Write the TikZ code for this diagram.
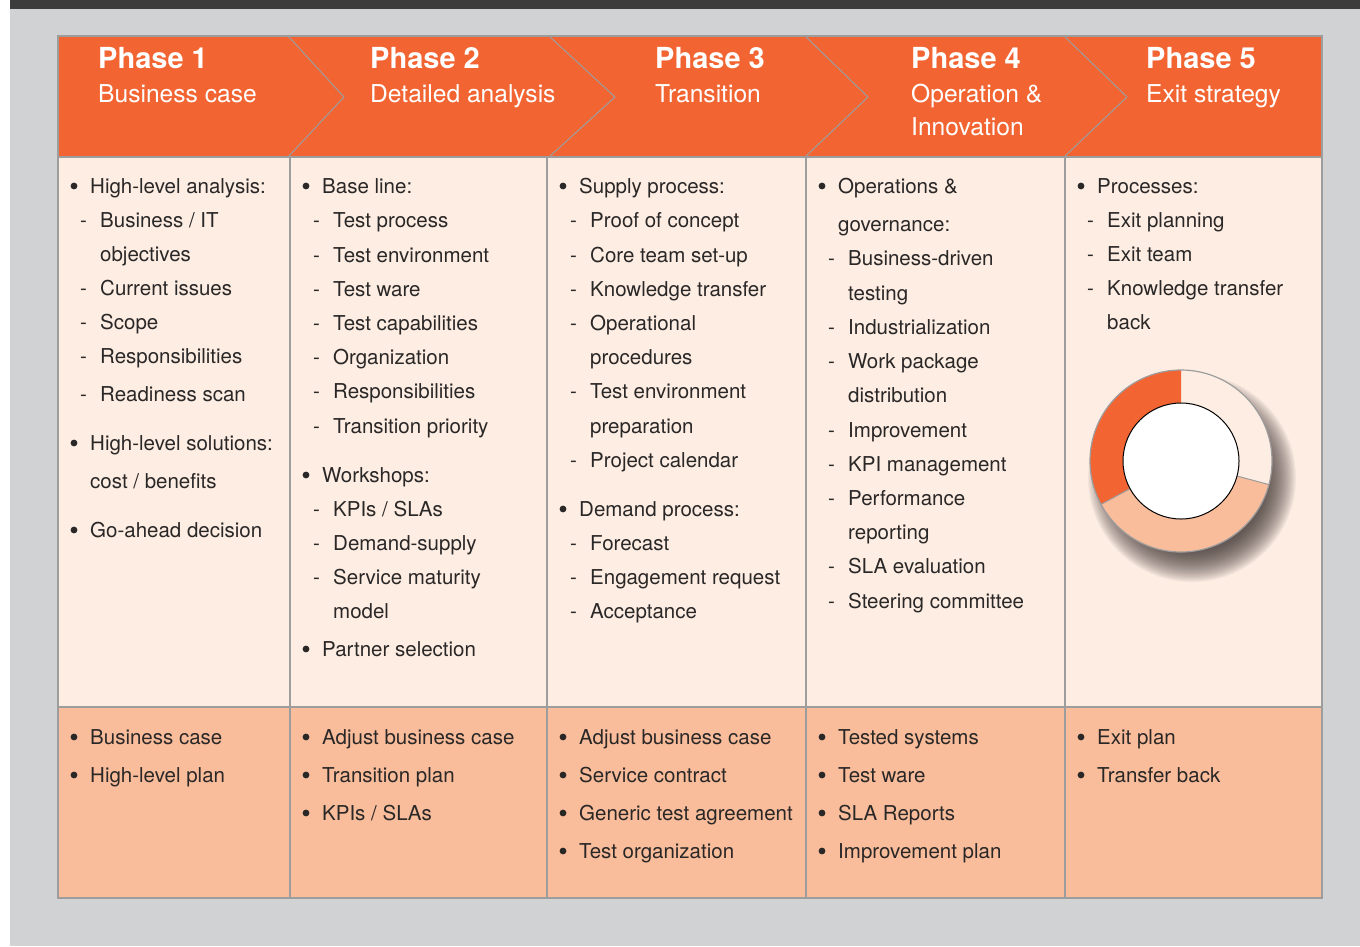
\documentclass[tikz,border=0pt]{standalone}
\usepackage{fontspec}
\setmainfont{TeX Gyre Heros}
\definecolor{orangeC}{HTML}{F26532}
\definecolor{bodyC}{HTML}{FDEDE3}
\definecolor{peachC}{HTML}{F9BD9B}
\definecolor{bgC}{HTML}{D1D2D4}
\definecolor{darkC}{HTML}{3C3C3C}
\definecolor{gridC}{HTML}{9D9D9D}
\definecolor{txtC}{HTML}{2A2727}
\definecolor{shadowC}{HTML}{3A302E}
\tikzset{
  txt/.style={anchor=base west, inner sep=0pt, text=txtC, font=\fontsize{20.5}{24}\selectfont},
  ph/.style={anchor=base west, inner sep=0pt, text=white, font=\fontsize{29}{32}\selectfont\bfseries},
  phs/.style={anchor=base west, inner sep=0pt, text=white, font=\fontsize{24.6}{30}\selectfont},
  gridline/.style={draw=gridC, line width=1.2pt},
  chevline/.style={draw=gridC, line width=1pt},
}
% bullet item: name, bullet x, center y, text
\newcommand\bul[4]{\fill[txtC] (#2,#3) circle (3.4);
  \node[txt] (#1) at (#2+16,#3+7) {#4};}
% dash item: name, dash x, center y, text
\newcommand\dsh[4]{\node[txt] (#1d) at (#2,#3+7) {-};
  \node[txt] (#1) at (#2+20,#3+7) {#4};}
% continuation: name, x, center y, text
\newcommand\cnt[4]{\node[txt] (#1) at (#2,#3+7) {#4};}
\begin{document}
\begin{tikzpicture}[x=1pt,y=-1pt]
\useasboundingbox (0,0) rectangle (1360,946);
\fill[white] (0,0) rectangle (1360,946);
\fill[bgC] (10,9) rectangle (1360,946);
\fill[darkC] (10,0) rectangle (1360,9);
% table fills
\fill[orangeC] (58,36) rectangle (1322,157);
\fill[bodyC] (58,157) rectangle (1322,707);
\fill[peachC] (58,707) rectangle (1322,898);
% chevrons
\draw[chevline] (288,36) -- (344,97) -- (288,157);
\draw[chevline] (549,36) -- (615,97) -- (549,157);
\draw[chevline] (805,36) -- (868,97) -- (805,157);
\draw[chevline] (1064,36) -- (1127,97) -- (1064,157);
% grid
\draw[gridline] (58,36) rectangle (1322,898);
\draw[gridline] (58,157) -- (1322,157);
\draw[gridline] (58,707) -- (1322,707);
\foreach \xx in {290,547,806,1065} \draw[gridline] (\xx,157) -- (\xx,898);
% headers
\node[ph] (h1) at (98,68) {Phase 1};
\node[phs] (h1s) at (98,102) {Business case};
\node[ph] (h2) at (370,68) {Phase 2};
\node[phs] (h2s) at (370,102) {Detailed analysis};
\node[ph] (h3) at (655,68) {Phase 3};
\node[phs] (h3s) at (655,102) {Transition};
\node[ph] (h4) at (911,68) {Phase 4};
\node[phs] (h4s) at (911,102) {Operation \&};
\node[phs] (h4t) at (911,135) {Innovation};
\node[ph] (h5) at (1146,68) {Phase 5};
\node[phs] (h5s) at (1146,102) {Exit strategy};
% column 1
\bul{a1}{74}{186}{High-level analysis:}
\dsh{a2}{80}{220}{Business / IT}
\cnt{a3}{100}{254}{objectives}
\dsh{a4}{80}{288}{Current issues}
\dsh{a5}{80}{322}{Scope}
\dsh{a6}{80}{356}{Responsibilities}
\dsh{a7}{80}{394}{Readiness scan}
\bul{a8}{74}{443}{High-level solutions:}
\cnt{a9}{90}{481}{cost / benefits}
\bul{a10}{74}{530}{Go-ahead decision}
% column 2
\bul{b1}{306}{186}{Base line:}
\dsh{b2}{313}{220}{Test process}
\dsh{b3}{313}{255}{Test environment}
\dsh{b4}{313}{289}{Test ware}
\dsh{b5}{313}{323}{Test capabilities}
\dsh{b6}{313}{357}{Organization}
\dsh{b7}{313}{391}{Responsibilities}
\dsh{b8}{313}{426}{Transition priority}
\bul{b9}{306}{475}{Workshops:}
\dsh{b10}{313}{509}{KPIs / SLAs}
\dsh{b11}{313}{543}{Demand-supply}
\dsh{b12}{313}{577}{Service maturity}
\cnt{b13}{333}{611}{model}
\bul{b14}{306}{649}{Partner selection}
% column 3
\bul{c1}{563}{186}{Supply process:}
\dsh{c2}{570}{220}{Proof of concept}
\dsh{c3}{570}{255}{Core team set-up}
\dsh{c4}{570}{289}{Knowledge transfer}
\dsh{c5}{570}{323}{Operational}
\cnt{c6}{590}{357}{procedures}
\dsh{c7}{570}{391}{Test environment}
\cnt{c8}{590}{426}{preparation}
\dsh{c9}{570}{460}{Project calendar}
\bul{c10}{563}{509}{Demand process:}
\dsh{c11}{570}{543}{Forecast}
\dsh{c12}{570}{577}{Engagement request}
\dsh{c13}{570}{611}{Acceptance}
% column 4
\bul{d1}{822}{186}{Operations \&}
\cnt{d2}{838}{224}{governance:}
\dsh{d3}{828}{258}{Business-driven}
\cnt{d4}{848}{293}{testing}
\dsh{d5}{828}{327}{Industrialization}
\dsh{d6}{828}{361}{Work package}
\cnt{d7}{848}{395}{distribution}
\dsh{d8}{828}{430}{Improvement}
\dsh{d9}{828}{464}{KPI management}
\dsh{d10}{828}{498}{Performance}
\cnt{d11}{848}{532}{reporting}
\dsh{d12}{828}{566}{SLA evaluation}
\dsh{d13}{828}{601}{Steering committee}
% column 5
\bul{e1}{1081}{186}{Processes:}
\dsh{e2}{1087}{220}{Exit planning}
\dsh{e3}{1087}{254}{Exit team}
\dsh{e4}{1087}{288}{Knowledge transfer}
\cnt{e5}{1107}{322}{back}
% bottom row
\bul{f1}{74}{737}{Business case}
\bul{f2}{74}{775}{High-level plan}
\bul{g1}{306}{737}{Adjust business case}
\bul{g2}{306}{775}{Transition plan}
\bul{g3}{306}{813}{KPIs / SLAs}
\bul{k1}{563}{737}{Adjust business case}
\bul{k2}{563}{775}{Service contract}
\bul{k3}{563}{813}{Generic test agreement}
\bul{k4}{563}{851}{Test organization}
\bul{m1}{822}{737}{Tested systems}
\bul{m2}{822}{775}{Test ware}
\bul{m3}{822}{813}{SLA Reports}
\bul{m4}{822}{851}{Improvement plan}
\bul{n1}{1081}{737}{Exit plan}
\bul{n2}{1081}{775}{Transfer back}
% donut shadow (soft, offset down-right)
\foreach \i in {0,...,23} \fill[shadowC, opacity=0.055] (1192,478) circle ({104-\i*1.3});
% donut
\begin{scope}[shift={(1181,461)}, yscale=-1]
  \fill[bodyC] (90:91) arc (90:-15:91) -- (-15:58) arc (-15:90:58) -- cycle;
  \fill[peachC] (-15:91) arc (-15:-151.5:91) -- (-151.5:58) arc (-151.5:-15:58) -- cycle;
  \fill[orangeC] (208.5:91) arc (208.5:90:91) -- (90:58) arc (90:208.5:58) -- cycle;
  \draw[gridC, line width=1pt] (-15:58) -- (-15:91) (208.5:58) -- (208.5:91);
  \draw[gridC, line width=1.2pt] (0,0) circle (91);
  \draw[black, line width=1pt, fill=white] (0,0) circle (58);
\end{scope}
\end{tikzpicture}
\end{document}
